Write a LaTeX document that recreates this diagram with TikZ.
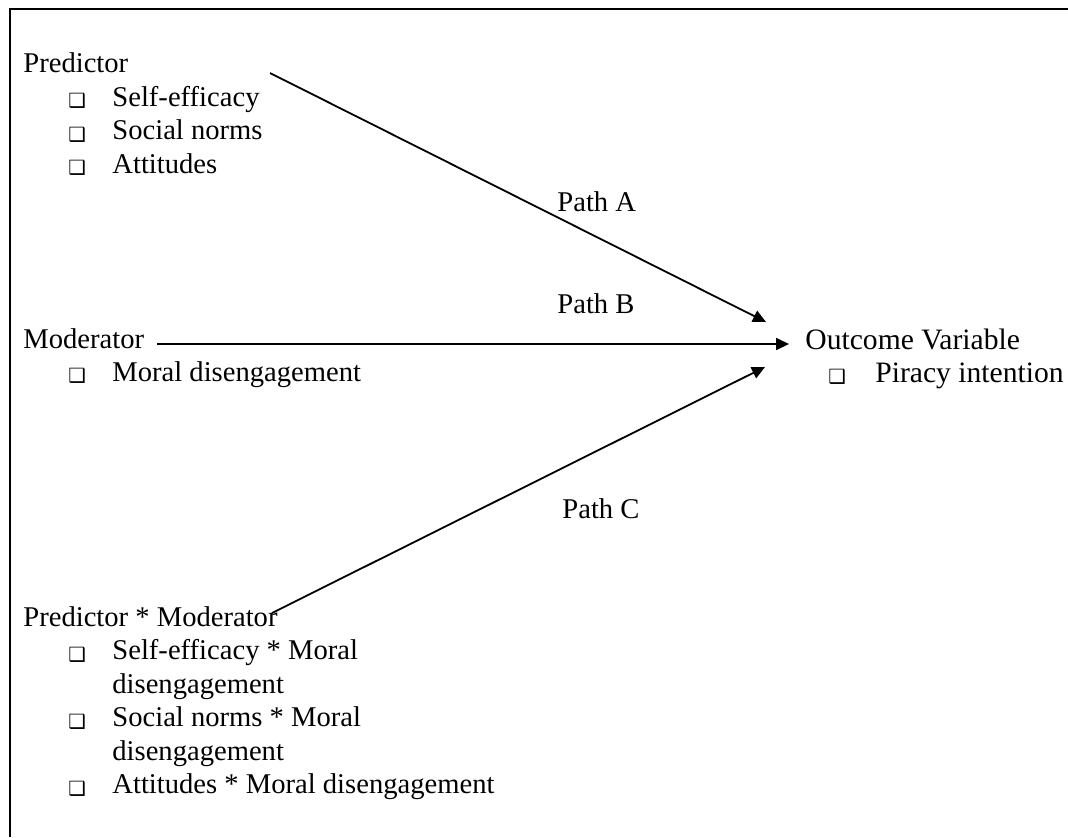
\documentclass[tikz,border=0pt]{standalone}
\usepackage{fontspec}
\setmainfont{Liberation Serif}
\newfontfamily\symfont{DejaVu Sans}
\usetikzlibrary{arrows.meta}

\begin{document}
\begin{tikzpicture}[x=0.5pt,y=-0.5pt,
  txt/.style={anchor=base west, inner sep=0pt, font=\fontsize{14.3}{16.75}\selectfont},
  bigtxt/.style={txt, font=\fontsize{14.8}{17}\selectfont},
  bul/.style={anchor=base west, inner sep=0pt, font=\symfont\fontsize{9.8}{10}\selectfont},
  link/.style={line width=0.9pt, -{Triangle[length=6.5pt,width=6pt]}}]
\useasboundingbox (0,0) rectangle (1068,837);
\fill[white] (0,0) rectangle (1068,837);
% frame (only top and left edges fall inside the page)
\draw[line width=1pt] (10,837) -- (10,9) -- (1068,9);

% predictor block
\node[txt] (pred) at (23,72) {Predictor};
\node[bul] (pb1) at (68,107.5) {❑};
\node[txt] (p1) at (112,106) {Self-efficacy};
\node[bul] (pb2) at (68,141) {❑};
\node[txt] (p2) at (112,139.5) {Social norms};
\node[bul] (pb3) at (68,174.5) {❑};
\node[txt] (p3) at (112,173) {Attitudes};

% moderator block
\node[txt] (mod) at (23,348) {Moderator};
\node[bul] (mb1) at (68,382.5) {❑};
\node[txt] (m1) at (112,381) {Moral disengagement};

% interaction block
\node[txt] (inter) at (23,626) {Predictor * Moderator};
\node[bul] (ib1) at (68,661) {❑};
\node[txt] (i1) at (112,659.5) {Self-efficacy * Moral};
\node[txt] (i1b) at (112,693) {disengagement};
\node[bul] (ib2) at (68,728) {❑};
\node[txt] (i2) at (112,726.5) {Social norms * Moral};
\node[txt] (i2b) at (112,760) {disengagement};
\node[bul] (ib3) at (68,795) {❑};
\node[txt] (i3) at (112,793.5) {Attitudes * Moral disengagement};

% outcome block
\node[bigtxt] (out) at (805,349) {Outcome Variable};
\node[bul] (ob1) at (828,383.5) {❑};
\node[bigtxt] (o1) at (875,382) {Piracy intention};

% path labels
\node[txt] (la) at (557,211) {Path A};
\node[txt] (lb) at (557,313) {Path B};
\node[txt] (lc) at (562,518) {Path C};

% connector ends
\coordinate (aStart) at (270,73);
\coordinate (aEnd) at (766,322);
\coordinate (bStart) at (157,344);
\coordinate (bEnd) at (789,344);
\coordinate (cStart) at (272,613);
\coordinate (cEnd) at (765,367);

\draw[link] (aStart) -- (aEnd);
\draw[link] (bStart) -- (bEnd);
\draw[link] (cStart) -- (cEnd);
\end{tikzpicture}
\end{document}
